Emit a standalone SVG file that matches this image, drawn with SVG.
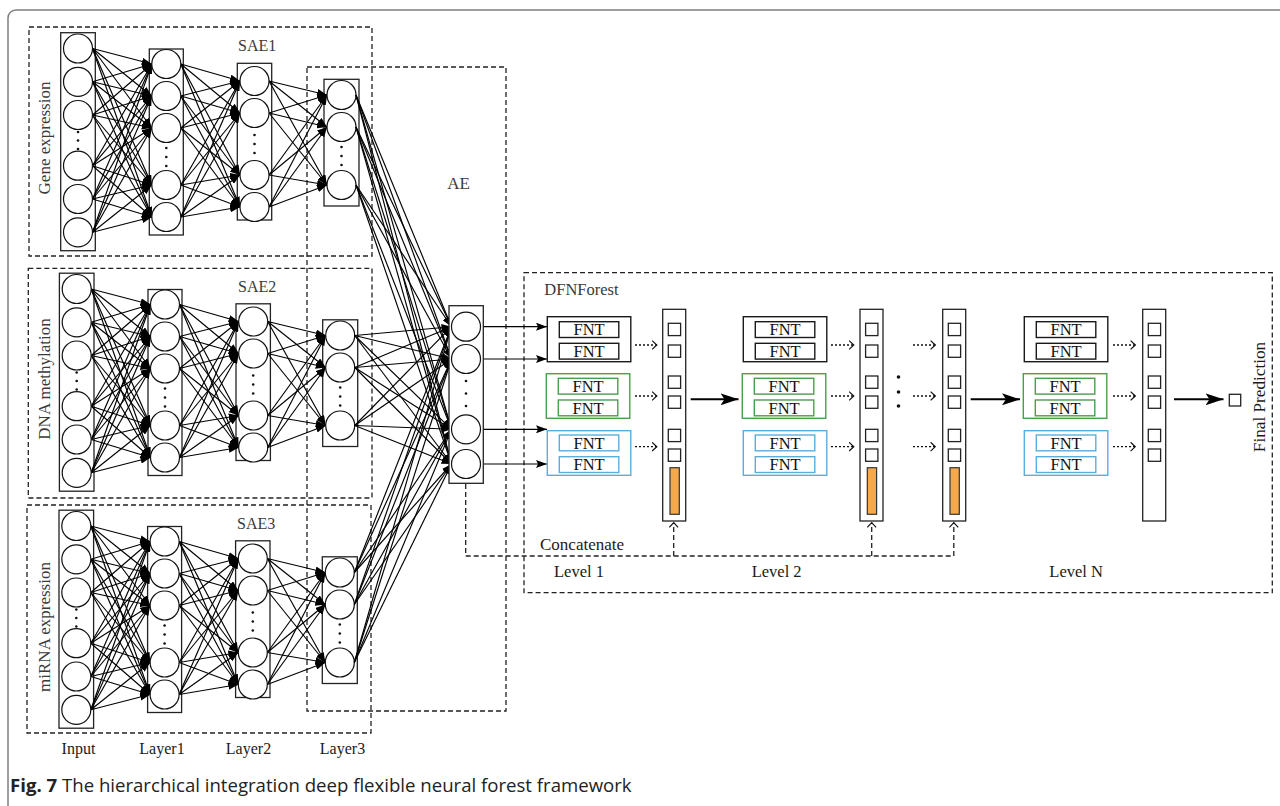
<svg xmlns="http://www.w3.org/2000/svg" xmlns:xlink="http://www.w3.org/1999/xlink" width="1280" height="806" viewBox="0 0 1280 806">
<defs>
<style>
.frame{fill:none;stroke:#7f7f7f;stroke-width:1.5}
.dash{fill:none;stroke:#222;stroke-width:1.3;stroke-dasharray:5 3}
.col{fill:#fff;stroke:#222;stroke-width:1.3}
.nd{fill:#fff;stroke:#111;stroke-width:1.2}
.e line{stroke:#000;stroke-width:1.15}
.e{marker-end:url(#ah)}
.dot{fill:#111}
.serif{font-family:"Liberation Serif","Times New Roman",serif}
.lbl{fill:#3a3a3a}
.fnt{font-family:"Liberation Serif","Times New Roman",serif;font-size:16.5px;fill:#111;text-anchor:middle}
.bk{fill:#fff;stroke:#1a1a1a;stroke-width:1.4}
.gr{fill:#fff;stroke:#4c9e4c;stroke-width:1.4}
.bl{fill:#fff;stroke:#5aaedc;stroke-width:1.4}
.sq{fill:#fff;stroke:#222;stroke-width:1.3}
.or{fill:#f5a94a;stroke:#333;stroke-width:1.2}
.dotted{stroke:#111;stroke-width:1.3;stroke-dasharray:2 2;fill:none;marker-end:url(#chev)}
.big{stroke:#000;stroke-width:2;fill:none;marker-end:url(#big)}
.out{stroke:#000;stroke-width:1.2;fill:none;marker-end:url(#ahm)}
.cc{fill:none;stroke:#222;stroke-width:1.3;stroke-dasharray:5 3;marker-end:url(#chev)}
</style>
<marker id="ah" viewBox="0 0 10 7.4" refX="10" refY="3.7" markerWidth="10" markerHeight="7.4" markerUnits="userSpaceOnUse" orient="auto"><path d="M0,0 L10,3.7 L0,7.4 z" fill="#000"/></marker>
<marker id="ahm" viewBox="0 0 11 8" refX="11" refY="4" markerWidth="11" markerHeight="8" markerUnits="userSpaceOnUse" orient="auto"><path d="M0,0 L11,4 L0,8 L2,4 z" fill="#000"/></marker>
<marker id="big" viewBox="0 0 18 12" refX="18" refY="6" markerWidth="18" markerHeight="12" markerUnits="userSpaceOnUse" orient="auto"><path d="M0,0 L18,6 L0,12 L4,6 z" fill="#000"/></marker>
<marker id="chev" viewBox="0 0 6 10" refX="5.5" refY="5" markerWidth="6" markerHeight="10" markerUnits="userSpaceOnUse" orient="auto"><path d="M0.6,0.6 L5.3,5 L0.6,9.4" fill="none" stroke="#111" stroke-width="1.2" stroke-dasharray="none"/></marker>

<!-- stacked autoencoder: input, layer1, layer2, layer3 fully connected -->
<g id="saeNet">
  <rect class="col" x="60.7" y="32.7" width="34.6" height="218"/>
  <rect class="col" x="149.3" y="49" width="34" height="186"/>
  <rect class="col" x="237.3" y="63.3" width="34.4" height="156.7"/>
  <rect class="col" x="324" y="79.3" width="35" height="126.7"/>
  <g class="e">
    <line x1="92.5" y1="48.5" x2="151.8" y2="64"/><line x1="92.5" y1="48.5" x2="151.8" y2="96"/><line x1="92.5" y1="48.5" x2="151.8" y2="128"/><line x1="92.5" y1="48.5" x2="151.8" y2="185"/><line x1="92.5" y1="48.5" x2="151.8" y2="217"/>
    <line x1="92.5" y1="81.8" x2="151.8" y2="64"/><line x1="92.5" y1="81.8" x2="151.8" y2="96"/><line x1="92.5" y1="81.8" x2="151.8" y2="128"/><line x1="92.5" y1="81.8" x2="151.8" y2="185"/><line x1="92.5" y1="81.8" x2="151.8" y2="217"/>
    <line x1="92.5" y1="115" x2="151.8" y2="64"/><line x1="92.5" y1="115" x2="151.8" y2="96"/><line x1="92.5" y1="115" x2="151.8" y2="128"/><line x1="92.5" y1="115" x2="151.8" y2="185"/><line x1="92.5" y1="115" x2="151.8" y2="217"/>
    <line x1="92.5" y1="165.7" x2="151.8" y2="64"/><line x1="92.5" y1="165.7" x2="151.8" y2="96"/><line x1="92.5" y1="165.7" x2="151.8" y2="128"/><line x1="92.5" y1="165.7" x2="151.8" y2="185"/><line x1="92.5" y1="165.7" x2="151.8" y2="217"/>
    <line x1="92.5" y1="199" x2="151.8" y2="64"/><line x1="92.5" y1="199" x2="151.8" y2="96"/><line x1="92.5" y1="199" x2="151.8" y2="128"/><line x1="92.5" y1="199" x2="151.8" y2="185"/><line x1="92.5" y1="199" x2="151.8" y2="217"/>
    <line x1="92.5" y1="232.3" x2="151.8" y2="64"/><line x1="92.5" y1="232.3" x2="151.8" y2="96"/><line x1="92.5" y1="232.3" x2="151.8" y2="128"/><line x1="92.5" y1="232.3" x2="151.8" y2="185"/><line x1="92.5" y1="232.3" x2="151.8" y2="217"/>
    <line x1="180.8" y1="64" x2="240" y2="81"/><line x1="180.8" y1="64" x2="240" y2="113"/><line x1="180.8" y1="64" x2="240" y2="175"/><line x1="180.8" y1="64" x2="240" y2="207"/>
    <line x1="180.8" y1="96" x2="240" y2="81"/><line x1="180.8" y1="96" x2="240" y2="113"/><line x1="180.8" y1="96" x2="240" y2="175"/><line x1="180.8" y1="96" x2="240" y2="207"/>
    <line x1="180.8" y1="128" x2="240" y2="81"/><line x1="180.8" y1="128" x2="240" y2="113"/><line x1="180.8" y1="128" x2="240" y2="175"/><line x1="180.8" y1="128" x2="240" y2="207"/>
    <line x1="180.8" y1="185" x2="240" y2="81"/><line x1="180.8" y1="185" x2="240" y2="113"/><line x1="180.8" y1="185" x2="240" y2="175"/><line x1="180.8" y1="185" x2="240" y2="207"/>
    <line x1="180.8" y1="217" x2="240" y2="81"/><line x1="180.8" y1="217" x2="240" y2="113"/><line x1="180.8" y1="217" x2="240" y2="175"/><line x1="180.8" y1="217" x2="240" y2="207"/>
    <line x1="269" y1="81" x2="327" y2="95"/><line x1="269" y1="81" x2="327" y2="127"/><line x1="269" y1="81" x2="327" y2="185"/>
    <line x1="269" y1="113" x2="327" y2="95"/><line x1="269" y1="113" x2="327" y2="127"/><line x1="269" y1="113" x2="327" y2="185"/>
    <line x1="269" y1="175" x2="327" y2="95"/><line x1="269" y1="175" x2="327" y2="127"/><line x1="269" y1="175" x2="327" y2="185"/>
    <line x1="269" y1="207" x2="327" y2="95"/><line x1="269" y1="207" x2="327" y2="127"/><line x1="269" y1="207" x2="327" y2="185"/>
  </g>
  <g class="nd">
    <circle cx="78" cy="48.5" r="14.5"/><circle cx="78" cy="81.8" r="14.5"/><circle cx="78" cy="115" r="14.5"/><circle cx="78" cy="165.7" r="14.5"/><circle cx="78" cy="199" r="14.5"/><circle cx="78" cy="232.3" r="14.5"/>
    <circle cx="166.3" cy="64" r="14.5"/><circle cx="166.3" cy="96" r="14.5"/><circle cx="166.3" cy="128" r="14.5"/><circle cx="166.3" cy="185" r="14.5"/><circle cx="166.3" cy="217" r="14.5"/>
    <circle cx="254.5" cy="81" r="14.5"/><circle cx="254.5" cy="113" r="14.5"/><circle cx="254.5" cy="175" r="14.5"/><circle cx="254.5" cy="207" r="14.5"/>
    <circle cx="341.5" cy="95" r="14.5"/><circle cx="341.5" cy="127" r="14.5"/><circle cx="341.5" cy="185" r="14.5"/>
  </g>
  <g class="dot">
    <circle cx="78" cy="132" r="1.3"/><circle cx="78" cy="140.5" r="1.3"/><circle cx="78" cy="149" r="1.3"/>
    <circle cx="166.3" cy="148" r="1.3"/><circle cx="166.3" cy="157" r="1.3"/><circle cx="166.3" cy="166" r="1.3"/>
    <circle cx="254.5" cy="135" r="1.3"/><circle cx="254.5" cy="144" r="1.3"/><circle cx="254.5" cy="153" r="1.3"/>
    <circle cx="341.5" cy="147" r="1.3"/><circle cx="341.5" cy="156" r="1.3"/><circle cx="341.5" cy="165" r="1.3"/>
  </g>
</g>

<!-- one forest level: black, green and blue pairs of flexible neural trees -->
<g id="fntSet">
  <rect class="bk" x="0" y="0" width="83.5" height="45"/>
  <rect class="bk" x="12" y="5" width="59.5" height="15.8"/>
  <rect class="bk" x="12" y="26.6" width="59.5" height="15.8"/>
  <text class="fnt" x="41.8" y="18.6">FNT</text>
  <text class="fnt" x="41.8" y="40.2">FNT</text>
  <rect class="gr" x="-1" y="57" width="83.5" height="44.6"/>
  <rect class="gr" x="11" y="61.6" width="59.5" height="15.8"/>
  <rect class="gr" x="11" y="83.3" width="59.5" height="15.8"/>
  <text class="fnt" x="40.8" y="75.2">FNT</text>
  <text class="fnt" x="40.8" y="96.9">FNT</text>
  <rect class="bl" x="0" y="114" width="83.5" height="44.6"/>
  <rect class="bl" x="12" y="118.3" width="59.5" height="15.8"/>
  <rect class="bl" x="12" y="140" width="59.5" height="15.8"/>
  <text class="fnt" x="41.8" y="131.9">FNT</text>
  <text class="fnt" x="41.8" y="153.6">FNT</text>
</g>

<!-- class vector column of a level -->
<g id="vecCol">
  <rect class="col" x="0" y="0" width="23" height="211.7"/>
  <rect class="sq" x="5.6" y="14" width="12.3" height="12.3"/>
  <rect class="sq" x="5.6" y="35.7" width="12.3" height="12.3"/>
  <rect class="sq" x="5.6" y="66.7" width="12.3" height="12.3"/>
  <rect class="sq" x="5.6" y="86.7" width="12.3" height="12.3"/>
  <rect class="sq" x="5.6" y="120" width="12.3" height="12.3"/>
  <rect class="sq" x="5.6" y="139.7" width="12.3" height="12.3"/>
</g>
<rect id="augBar" class="or" x="7.3" y="158.4" width="9.3" height="46.6"/>
</defs>

<rect width="1280" height="806" fill="#fff"/>
<rect class="frame" x="8" y="10" width="1300" height="830" rx="8"/>

<!-- dashed frames -->
<g id="frames">
  <rect class="dash" x="29" y="27" width="343" height="229"/>
  <rect class="dash" x="28.3" y="268.3" width="343.7" height="229.7"/>
  <rect class="dash" x="27" y="505" width="344" height="228"/>
  <rect class="dash" x="307" y="67" width="199" height="644"/>
  <rect class="dash" x="524" y="272.7" width="748.3" height="320"/>
</g>

<g id="sae1"><use xlink:href="#saeNet"/></g>
<g id="sae2"><use xlink:href="#saeNet" transform="translate(-1.3,240.5)"/></g>
<g id="sae3"><use xlink:href="#saeNet" transform="translate(-1.7,477.5)"/></g>

<!-- connectors: SAE layer3 into the shared autoencoder, AE out to the forest -->
<g id="connectors">
  <g class="e">
    <line x1="356" y1="95" x2="451.5" y2="326.7"/><line x1="356" y1="95" x2="451.5" y2="359"/><line x1="356" y1="95" x2="451.5" y2="429.3"/><line x1="356" y1="95" x2="451.5" y2="464"/>
    <line x1="356" y1="127" x2="451.5" y2="326.7"/><line x1="356" y1="127" x2="451.5" y2="359"/><line x1="356" y1="127" x2="451.5" y2="429.3"/><line x1="356" y1="127" x2="451.5" y2="464"/>
    <line x1="356" y1="185" x2="451.5" y2="326.7"/><line x1="356" y1="185" x2="451.5" y2="359"/><line x1="356" y1="185" x2="451.5" y2="429.3"/><line x1="356" y1="185" x2="451.5" y2="464"/>
    <line x1="354.7" y1="335.5" x2="451.5" y2="326.7"/><line x1="354.7" y1="335.5" x2="451.5" y2="359"/><line x1="354.7" y1="335.5" x2="451.5" y2="429.3"/><line x1="354.7" y1="335.5" x2="451.5" y2="464"/>
    <line x1="354.7" y1="367.5" x2="451.5" y2="326.7"/><line x1="354.7" y1="367.5" x2="451.5" y2="359"/><line x1="354.7" y1="367.5" x2="451.5" y2="429.3"/><line x1="354.7" y1="367.5" x2="451.5" y2="464"/>
    <line x1="354.7" y1="425.5" x2="451.5" y2="326.7"/><line x1="354.7" y1="425.5" x2="451.5" y2="359"/><line x1="354.7" y1="425.5" x2="451.5" y2="429.3"/><line x1="354.7" y1="425.5" x2="451.5" y2="464"/>
    <line x1="354.3" y1="572.5" x2="451.5" y2="326.7"/><line x1="354.3" y1="572.5" x2="451.5" y2="359"/><line x1="354.3" y1="572.5" x2="451.5" y2="429.3"/><line x1="354.3" y1="572.5" x2="451.5" y2="464"/>
    <line x1="354.3" y1="604.5" x2="451.5" y2="326.7"/><line x1="354.3" y1="604.5" x2="451.5" y2="359"/><line x1="354.3" y1="604.5" x2="451.5" y2="429.3"/><line x1="354.3" y1="604.5" x2="451.5" y2="464"/>
    <line x1="354.3" y1="662.5" x2="451.5" y2="326.7"/><line x1="354.3" y1="662.5" x2="451.5" y2="359"/><line x1="354.3" y1="662.5" x2="451.5" y2="429.3"/><line x1="354.3" y1="662.5" x2="451.5" y2="464"/>
  </g>
  <path class="out" d="M480.5,326.7 H547"/>
  <path class="out" d="M480.5,359 H547"/>
  <path class="out" d="M480.5,429.3 H547"/>
  <path class="out" d="M480.5,464 H547"/>
  <!-- concatenation of the AE code with each level -->
  <path class="dash" d="M465.7,484 V556 H953.3"/>
  <path class="cc" d="M673.7,556 V522.5"/>
  <path class="cc" d="M871.7,556 V522.5"/>
  <path class="cc" d="M953.8,556 V522.5"/>
  <!-- tree outputs into the level vectors -->
  <path class="dotted" d="M635,345 H657"/><path class="dotted" d="M635,396 H657"/><path class="dotted" d="M635,446.7 H657"/>
  <path class="dotted" d="M831,345 H854"/><path class="dotted" d="M831,396 H854"/><path class="dotted" d="M831,446.7 H854"/>
  <path class="dotted" d="M913,345 H935.5"/><path class="dotted" d="M913,396 H935.5"/><path class="dotted" d="M913,446.7 H935.5"/>
  <path class="dotted" d="M1113,345 H1135.5"/><path class="dotted" d="M1113,396 H1135.5"/><path class="dotted" d="M1113,446.7 H1135.5"/>
  <!-- level to level -->
  <path class="big" d="M690.7,399.3 H738.5"/>
  <path class="big" d="M970.7,399.3 H1020"/>
  <path class="big" d="M1174,399.3 H1223.5"/>
</g>

<!-- shared autoencoder column -->
<g id="ae">
  <rect class="col" x="449" y="305.7" width="34.3" height="177.6"/>
  <g class="nd">
    <circle cx="466" cy="326.7" r="14.5"/><circle cx="466" cy="359" r="14.5"/><circle cx="466" cy="429.3" r="14.5"/><circle cx="466" cy="464" r="14.5"/>
  </g>
  <g class="dot"><circle cx="466" cy="381" r="1.3"/><circle cx="466" cy="393.5" r="1.3"/><circle cx="466" cy="406" r="1.3"/></g>
</g>

<g id="level1">
  <use xlink:href="#fntSet" transform="translate(547.3,316.7)"/>
  <g transform="translate(662.7,309.3)"><use xlink:href="#vecCol"/><use xlink:href="#augBar"/></g>
</g>
<g id="level2">
  <use xlink:href="#fntSet" transform="translate(743.3,316.7)"/>
  <g transform="translate(860,309.3)"><use xlink:href="#vecCol"/><use xlink:href="#augBar"/></g>
</g>
<g id="ellipsis" class="dot">
  <circle cx="898.5" cy="377" r="1.8"/><circle cx="898.5" cy="392" r="1.8"/><circle cx="898.5" cy="406" r="1.8"/>
</g>
<g id="levelPrev">
  <g transform="translate(942.7,309.3)"><use xlink:href="#vecCol"/><use xlink:href="#augBar"/></g>
</g>
<g id="levelN">
  <use xlink:href="#fntSet" transform="translate(1024.3,316.7)"/>
  <g transform="translate(1142.7,309.3)"><use xlink:href="#vecCol"/></g>
</g>
<g id="final">
  <rect class="sq" x="1229.3" y="394.3" width="11.4" height="11.7"/>
</g>

<!-- labels -->
<g class="serif lbl">
  <text x="238" y="51" font-size="16">SAE1</text>
  <text x="238" y="291.5" font-size="16">SAE2</text>
  <text x="237" y="529" font-size="16">SAE3</text>
  <text x="447.3" y="189" font-size="17">AE</text>
  <text font-size="17" text-anchor="middle" transform="translate(50,138) rotate(-90)">Gene expression</text>
  <text font-size="17" text-anchor="middle" transform="translate(50,379) rotate(-90)">DNA methylation</text>
  <text font-size="17" text-anchor="middle" transform="translate(50,627) rotate(-90)">miRNA expression</text>
  <text x="544.3" y="295" font-size="16.5">DFNForest</text>
</g>
<g class="serif" fill="#1a1a1a">
  <text x="540" y="549.5" font-size="17">Concatenate</text>
  <text x="554" y="577" font-size="16.5">Level 1</text>
  <text x="751.7" y="577" font-size="16.5">Level 2</text>
  <text x="1049.3" y="577" font-size="16.5">Level N</text>
  <text font-size="17.2" text-anchor="middle" transform="translate(1264.5,397) rotate(-90)">Final Prediction</text>
  <g font-size="16" text-anchor="middle">
    <text x="78.5" y="754">Input</text>
    <text x="162" y="754">Layer1</text>
    <text x="248.5" y="754">Layer2</text>
    <text x="342.5" y="754">Layer3</text>
  </g>
</g>
<text x="10" y="792" font-family="'Open Sans','Noto Sans',sans-serif" font-size="18.6" fill="#222"><tspan font-weight="bold">Fig. 7</tspan> The hierarchical integration deep flexible neural forest framework</text>
</svg>
